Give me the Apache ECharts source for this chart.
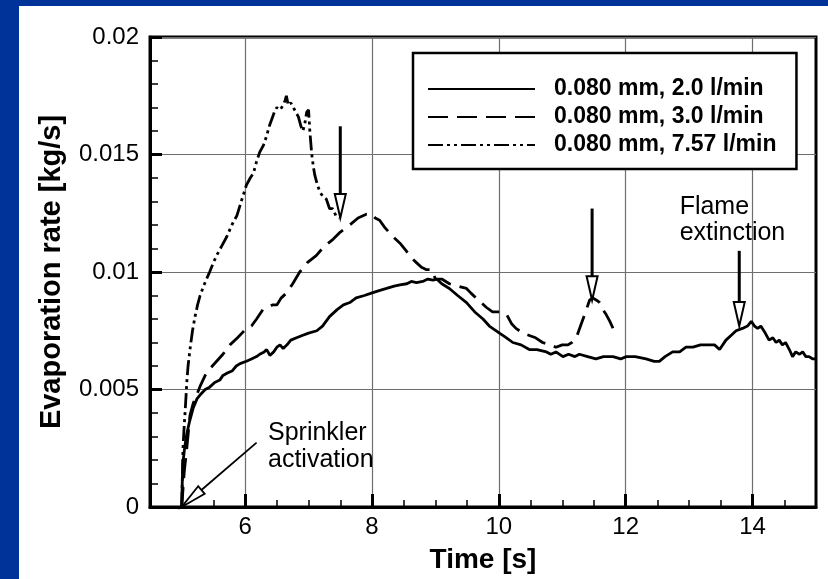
<!DOCTYPE html>
<html>
<head>
<meta charset="utf-8">
<script src="https://cdn.jsdelivr.net/npm/echarts@6/dist/echarts.min.js"></script>
<style>
  html, body { margin: 0; padding: 0; width: 828px; height: 579px; background: #003399; overflow: hidden; }
  #chart { position: absolute; left: 19px; top: 6px; width: 809px; height: 573px; }
</style>
</head>
<body>
<div id="chart"></div>
<script>
// ---- data ----
const seriesNames = ['0.080 mm, 2.0 l/min', '0.080 mm, 3.0 l/min', '0.080 mm, 7.57 l/min'];

const flow20 = [
  [5.00,0],[5.01,0.0012],[5.02,0.0019],[5.05,0.0026],[5.08,0.0031],[5.12,0.0036],[5.18,0.0042],
  [5.24,0.0046],[5.30,0.0048],[5.37,0.0050],[5.44,0.0051],[5.52,0.0053],[5.60,0.0054],[5.65,0.0056],
  [5.72,0.0057],[5.80,0.0058],[5.86,0.0060],[5.92,0.0061],[6.02,0.0062],[6.10,0.0063],[6.18,0.0064],
  [6.23,0.0065],[6.30,0.0066],[6.34,0.0067],[6.39,0.00645],[6.45,0.0066],[6.50,0.0068],[6.55,0.0069],
  [6.60,0.00674],[6.66,0.0069],[6.72,0.0071],[6.81,0.0072],[6.90,0.0073],[7.00,0.0074],[7.13,0.0075],
  [7.22,0.0077],[7.33,0.0081],[7.45,0.0084],[7.55,0.0086],[7.65,0.0087],[7.75,0.0089],[7.88,0.0090],
  [7.99,0.0091],[8.10,0.0092],[8.23,0.0093],[8.35,0.0094],[8.44,0.00945],[8.55,0.0095],[8.62,0.0096],
  [8.70,0.00955],[8.80,0.0096],[8.88,0.0097],[8.96,0.00965],[9.02,0.0097],[9.10,0.0095],[9.22,0.0093],
  [9.35,0.0090],[9.49,0.0087],[9.62,0.0083],[9.75,0.0080],[9.85,0.0077],[10.01,0.0074],[10.12,0.0072],
  [10.22,0.0070],[10.35,0.0069],[10.48,0.0067],[10.60,0.0067],[10.75,0.0066],[10.82,0.0065],[10.90,0.0066],
  [11.01,0.0064],[11.10,0.0065],[11.20,0.0064],[11.27,0.0065],[11.40,0.0064],[11.53,0.0063],[11.65,0.0064],
  [11.80,0.0064],[11.92,0.0063],[12.01,0.0064],[12.15,0.0064],[12.32,0.0063],[12.45,0.0062],[12.53,0.0062],
  [12.62,0.0064],[12.74,0.0066],[12.85,0.0066],[12.95,0.0068],[13.06,0.0068],[13.18,0.0069],[13.32,0.0069],
  [13.40,0.0069],[13.48,0.0067],[13.58,0.0071],[13.66,0.0073],[13.74,0.0075],[13.84,0.0076],[13.92,0.0077],
  [13.98,0.0079],[14.03,0.0077],[14.08,0.0076],[14.13,0.0077],[14.20,0.0074],[14.26,0.0071],[14.32,0.0072],
  [14.37,0.0070],[14.42,0.0071],[14.47,0.0069],[14.52,0.0070],[14.58,0.0067],[14.63,0.0064],[14.68,0.0066],
  [14.74,0.0065],[14.79,0.0066],[14.84,0.0064],[14.89,0.0064],[14.95,0.0063],[15.00,0.0063]
];

const flow30 = [
  [5.00,0],[5.04,0.0015],[5.08,0.0025],[5.13,0.0039],[5.18,0.0044],[5.24,0.0048],[5.30,0.0052],
  [5.37,0.0056],[5.45,0.0059],[5.55,0.0062],[5.65,0.0065],[5.76,0.0069],[5.88,0.0072],[5.95,0.0074],
  [6.02,0.0076],[6.10,0.0077],[6.18,0.0080],[6.28,0.0084],[6.36,0.0085],[6.43,0.0086],[6.50,0.0086],
  [6.57,0.0089],[6.65,0.0091],[6.75,0.0095],[6.86,0.0100],[6.98,0.0104],[7.12,0.0107],[7.25,0.0111],
  [7.39,0.0114],[7.50,0.0117],[7.65,0.0120],[7.78,0.0123],[7.91,0.01246],[7.99,0.01248],[8.05,0.0123],
  [8.12,0.0122],[8.20,0.0119],[8.33,0.0115],[8.45,0.0112],[8.54,0.0109],[8.62,0.0106],[8.70,0.0104],
  [8.78,0.0102],[8.86,0.0101],[8.94,0.0101],[9.00,0.0097],[9.10,0.0097],[9.22,0.0095],[9.35,0.0094],
  [9.49,0.0093],[9.56,0.0091],[9.64,0.0089],[9.72,0.0087],[9.80,0.0085],[9.90,0.0083],[10.01,0.0083],
  [10.12,0.0082],[10.20,0.0078],[10.27,0.0076],[10.38,0.0074],[10.48,0.0073],[10.58,0.0072],[10.69,0.0070],
  [10.80,0.0069],[10.90,0.0068],[11.00,0.0069],[11.09,0.0069],[11.15,0.0070],[11.22,0.0072],[11.30,0.0078],
  [11.38,0.0084],[11.43,0.0088],[11.48,0.0089],[11.54,0.0088],[11.59,0.0087],[11.64,0.0084],[11.69,0.0082],
  [11.75,0.0079],[11.80,0.0076]
];

const flow757 = [
  [5.00,0],[5.01,0.0012],[5.02,0.0025],[5.04,0.0035],[5.05,0.0039],[5.07,0.0048],[5.08,0.0053],
  [5.10,0.0060],[5.13,0.0067],[5.17,0.0075],[5.21,0.0081],[5.25,0.0086],[5.29,0.0090],[5.36,0.0095],
  [5.44,0.0100],[5.50,0.0104],[5.55,0.0107],[5.63,0.0111],[5.71,0.0115],[5.79,0.0120],[5.87,0.0124],
  [5.95,0.0131],[6.02,0.0137],[6.08,0.0140],[6.13,0.0142],[6.18,0.0147],[6.23,0.0151],[6.29,0.0154],
  [6.34,0.0158],[6.38,0.0162],[6.42,0.0165],[6.46,0.0168],[6.50,0.0170],[6.55,0.0169],[6.60,0.0171],
  [6.63,0.0173],[6.65,0.0175],[6.68,0.0171],[6.72,0.0172],[6.76,0.0170],[6.80,0.0168],[6.84,0.0166],
  [6.88,0.0162],[6.91,0.0160],[6.94,0.0163],[6.97,0.0168],[7.00,0.0169],[7.02,0.0160],[7.05,0.0150],
  [7.08,0.0144],[7.10,0.0141],[7.14,0.0137],[7.18,0.0134],[7.23,0.0132],[7.28,0.0131],[7.33,0.0127],
  [7.38,0.0127],[7.43,0.0124],[7.49,0.0123]
];

const xMajorTicks = [6, 8, 10, 12, 14];
const xMinorTicks = [5, 5.5, 6.5, 7, 7.5, 8.5, 9, 9.5, 10.5, 11, 11.5, 12.5, 13, 13.5, 14.5];

// annotation arrows: [tailX, tailY, tipX, tipY]
const eventArrows = [
  [7.5, 0.0162, 7.5, 0.0123],
  [11.47, 0.0127, 11.47, 0.0088],
  [13.79, 0.0109, 13.79, 0.0077]
];
const sprinklerArrow = [[6.18, 0.00274, 5.0, 0]];
// annotation texts: [x, y, text]
const notes = [
  [6.36, 0.00314, 'Sprinkler'],
  [6.36, 0.00200, 'activation'],
  [12.85, 0.01275, 'Flame'],
  [12.85, 0.01165, 'extinction']
];

// ---- chart ----
const FONT = "'Liberation Sans', Arial, sans-serif";
const chart = echarts.init(document.getElementById('chart'), null, { renderer: 'canvas' });

function arrowRenderer(list, shaftW, headLen, headHalf, headLW) {
  return function (params, api) {
    const a = list[params.dataIndex];
    const tail = api.coord([a[0], a[1]]);
    const tip = api.coord([a[2], a[3]]);
    const dx = tip[0] - tail[0], dy = tip[1] - tail[1];
    const len = Math.hypot(dx, dy);
    const ux = dx / len, uy = dy / len;
    const base = [tip[0] - ux * headLen, tip[1] - uy * headLen];
    const px = -uy, py = ux;
    return {
      type: 'group',
      children: [
        { type: 'line', shape: { x1: tail[0], y1: tail[1], x2: base[0], y2: base[1] },
          style: { stroke: '#000', lineWidth: shaftW } },
        { type: 'polygon', shape: { points: [
            [base[0] + px * headHalf, base[1] + py * headHalf],
            [tip[0], tip[1]],
            [base[0] - px * headHalf, base[1] - py * headHalf]
          ] },
          style: { fill: '#fff', stroke: '#000', lineWidth: headLW } }
      ]
    };
  };
}

const lineCommon = {
  type: 'line', symbol: 'none', showSymbol: false, smooth: false,
  xAxisIndex: 0, yAxisIndex: 0, z: 5, clip: true
};

chart.setOption({
  animation: false,
  backgroundColor: '#ffffff',
  grid: {
    left: 131, right: 12, top: 31, bottom: 70,
    show: true, borderColor: '#000', borderWidth: 3, backgroundColor: 'transparent'
  },
  legend: {
    data: seriesNames,
    orient: 'vertical',
    left: 394, top: 47,
    padding: [22, 20, 10, 14],
    itemWidth: 107, itemHeight: 18, itemGap: 0,
    backgroundColor: '#fff',
    borderColor: '#000', borderWidth: 2.5,
    selectedMode: false,
    itemStyle: { color: 'rgba(0,0,0,0)', borderWidth: 0, opacity: 0 },
    textStyle: { fontFamily: FONT, fontSize: 23, fontWeight: 'bold', color: '#000',
                 lineHeight: 28, padding: [0, 0, 0, 14] },
    z: 10
  },
  xAxis: [
    {
      type: 'value', min: 4.5, max: 15, position: 'bottom',
      name: 'Time [s]', nameLocation: 'middle', nameGap: 39,
      nameTextStyle: { fontFamily: FONT, fontSize: 28, fontWeight: 'bold', color: '#000' },
      axisLine: { show: true, lineStyle: { color: '#000', width: 3 } },
      axisTick: { show: true, inside: true, length: 13, customValues: xMajorTicks,
                  lineStyle: { color: '#000', width: 3 } },
      axisLabel: { show: true, customValues: xMajorTicks, margin: 8,
                   fontFamily: FONT, fontSize: 24, color: '#000' },
      splitLine: { show: true, lineStyle: { color: '#6e6e6e', width: 1.2 } }
    },
    {
      type: 'value', min: 4.5, max: 15, position: 'bottom',
      axisLine: { show: false },
      axisTick: { show: true, inside: true, length: 7, customValues: xMinorTicks,
                  lineStyle: { color: '#000', width: 1.5 } },
      axisLabel: { show: false },
      splitLine: { show: false }
    }
  ],
  yAxis: {
    type: 'value', min: 0, max: 0.02, interval: 0.005,
    name: 'Evaporation rate [kg/s]', nameLocation: 'middle', nameGap: 84,
    nameTextStyle: { fontFamily: FONT, fontSize: 29, fontWeight: 'bold', color: '#000' },
    axisLine: { show: true, lineStyle: { color: '#000', width: 3 } },
    axisTick: { show: true, inside: true, length: 12, lineStyle: { color: '#000', width: 3 } },
    minorTick: { show: true, splitNumber: 5, length: 8, lineStyle: { color: '#000', width: 1.5 } },
    axisLabel: { margin: 11, fontFamily: FONT, fontSize: 24, color: '#000' },
    splitLine: { show: true, lineStyle: { color: '#6e6e6e', width: 1.2 } }
  },
  series: [
    Object.assign({}, lineCommon, { name: seriesNames[0], data: flow20,
      lineStyle: { color: '#000', width: 2.8, type: 'solid' }, itemStyle: { color: '#000' } }),
    Object.assign({}, lineCommon, { name: seriesNames[1], data: flow30,
      lineStyle: { color: '#000', width: 2.8, type: [20, 9] }, itemStyle: { color: '#000' } }),
    Object.assign({}, lineCommon, { name: seriesNames[2], data: flow757,
      lineStyle: { color: '#000', width: 2.8, type: [15, 4, 3, 4, 3, 4] }, itemStyle: { color: '#000' } }),
    {
      type: 'custom', name: 'eventArrows', xAxisIndex: 0, yAxisIndex: 0, z: 6, clip: false,
      data: eventArrows, encode: { x: [0, 2], y: [1, 3] },
      renderItem: arrowRenderer(eventArrows, 3, 24, 5.5, 2)
    },
    {
      type: 'custom', name: 'sprinklerArrow', xAxisIndex: 0, yAxisIndex: 0, z: 6, clip: false,
      data: sprinklerArrow, encode: { x: [0, 2], y: [1, 3] },
      renderItem: arrowRenderer(sprinklerArrow, 1.8, 26, 5, 1.8)
    },
    {
      type: 'custom', name: 'notes', xAxisIndex: 0, yAxisIndex: 0, z: 6, clip: false,
      data: notes.map(n => [n[0], n[1]]), encode: { x: 0, y: 1 },
      renderItem: function (params, api) {
        const n = notes[params.dataIndex];
        const p = api.coord([n[0], n[1]]);
        return {
          type: 'text', x: p[0], y: p[1],
          style: { text: n[2], fill: '#000', font: "25px 'Liberation Sans', Arial, sans-serif",
                   align: 'left', verticalAlign: 'middle' }
        };
      }
    }
  ]
});
</script>
</body>
</html>
